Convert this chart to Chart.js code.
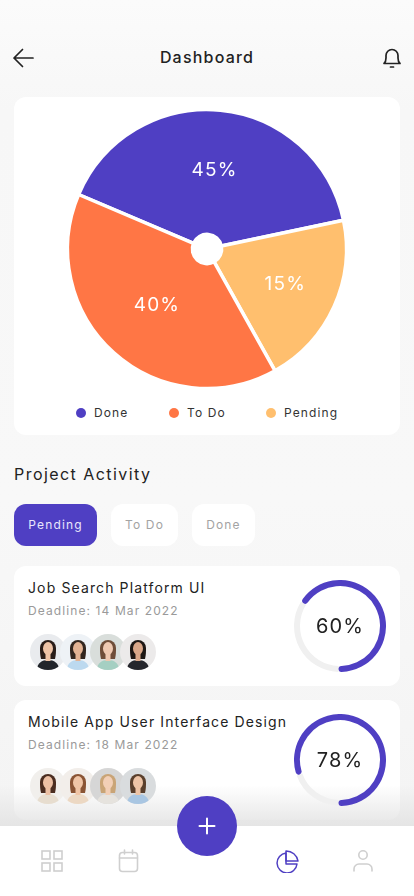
<!DOCTYPE html>
<html>
<head>
<meta charset="utf-8">
<title>Dashboard</title>
<script src="https://cdn.jsdelivr.net/npm/chart.js@4"></script>
<style>
    * { box-sizing: border-box; }
    html, body { margin: 0; padding: 0; }
    body {
        width: 414px; height: 896px; position: relative; overflow: hidden;
        font-family: Inter, "Noto Sans", sans-serif; color: #222;
        background: linear-gradient(#fbfbfb 0, #f7f7f7 110px, #f8f8f8 500px, #f4f4f4 800px);
    }
    .abs { position: absolute; }
    .title { left: 0; width: 414px; top: 47px; text-align: center; font-size: 16px; line-height: 20px; font-weight: 500; letter-spacing: 1.2px; }
    .card { position: absolute; left: 14px; width: 386px; background: #fff; border-radius: 12px; }
    .legend-item { position: absolute; top: 405px; font-size: 12px; line-height: 16px; letter-spacing: 1.1px; font-weight: 400; color: #333; }
    .legend-dot { position: absolute; top: 408px; width: 10px; height: 10px; border-radius: 50%; }
    .section { left: 14px; top: 464px; font-size: 16px; line-height: 20px; font-weight: 400; letter-spacing: 1.45px; }
    .tab { position: absolute; top: 504px; height: 42px; border-radius: 12px; background: #fff; color: #a3a3a3; font-size: 12px; line-height: 42px; text-align: center; letter-spacing: 1.15px; font-weight: 400; }
    .tab.active { background: #4f3fc3; color: #e9e6fb; }
    .task-name { position: absolute; left: 28px; font-size: 14px; line-height: 18px; font-weight: 400; letter-spacing: 1.12px; white-space: nowrap; }
    .task-date { position: absolute; left: 28px; font-size: 12px; line-height: 16px; color: #9a9a9a; letter-spacing: 1.1px; white-space: nowrap; }
    .ring { position: absolute; left: 294px; width: 92px; height: 92px; }
    .ring-text { position: absolute; left: 294px; width: 92px; text-align: center; font-size: 20px; line-height: 24px; letter-spacing: 1.1px; color: #222; }
    .avatar { position: absolute; width: 36px; height: 36px; border-radius: 50%; overflow: hidden; }
    .fade { left: 0; top: 785px; width: 414px; height: 41px; background: linear-gradient(rgba(228,228,228,0), rgba(228,228,228,.95)); }
    .nav { left: 0; top: 826px; width: 414px; height: 70px; background: #fff; }
    .fab { left: 177px; top: 796px; width: 60px; height: 60px; border-radius: 50%; background: #4f3fc3; }
</style>
</head>
<body>

<svg class="abs" style="left:12px;top:47px" width="22" height="22" viewBox="0 0 22 22" fill="none" stroke="#222" stroke-width="1.7" stroke-linecap="round" stroke-linejoin="round"><path d="M21 11H2M10.5 2.5 2 11l8.5 8.5"/></svg>
<div class="abs title">Dashboard</div>
<svg class="abs" style="left:381px;top:47px" width="22" height="22" viewBox="0 0 22 22" fill="none" stroke="#222" stroke-width="1.7" stroke-linecap="round" stroke-linejoin="round"><path d="M3 16.5h16c-1.6-1.4-2-3-2-5.5V8.500a6 6 0 0 0-12 0V11c0 2.500-.4 4.100-2 5.500z"/><path d="M9.500 20h3"/></svg>

<div class="card" style="top:97px;height:338px"></div>
<canvas id="pieChart" class="abs" style="left:57px;top:99px;width:300px;height:300px" width="300" height="300"></canvas>
<div id="pieLegend"></div>

<div class="abs section">Project Activity</div>
<div id="tabs"></div>

<div class="card" style="top:566px;height:120px"></div>
<div class="card" style="top:700px;height:120px"></div>
<div class="abs fade"></div>
<div id="tasks"></div>

<div class="abs nav"></div>
<div class="abs fab"></div>
<svg class="abs" style="left:197px;top:816px" width="20" height="20" viewBox="0 0 20 20" stroke="#fff" stroke-width="2" stroke-linecap="round"><path d="M10 2.500v15M2.500 10h15"/></svg>

<svg class="abs" style="left:41px;top:850px" width="22" height="22" viewBox="0 0 22 22" fill="none" stroke="#cfcfcf" stroke-width="1.6"><rect x="1" y="1" width="8" height="8"/><rect x="13" y="1" width="8" height="8"/><rect x="1" y="13" width="8" height="8"/><rect x="13" y="13" width="8" height="8"/></svg>
<svg class="abs" style="left:118px;top:849px" width="21" height="24" viewBox="0 0 21 24" fill="none" stroke="#cfcfcf" stroke-width="1.6" stroke-linecap="round"><rect x="1.500" y="3.500" width="18" height="19" rx="3"/><path d="M1.500 9h18M6.500 1v4M14.500 1v4"/></svg>
<svg class="abs" style="left:276px;top:850px" width="23" height="23" viewBox="0 0 23 23" fill="none" stroke="#4f3fc3" stroke-width="1.5" stroke-linejoin="round"><path d="M10 3a10 10 0 1 0 11 11H10z"/><path d="M10 1a12 12 0 0 1 12 10H10z"/></svg>
<svg class="abs" style="left:353px;top:850px" width="20" height="22" viewBox="0 0 20 22" fill="none" stroke="#cfcfcf" stroke-width="1.6" stroke-linecap="round"><circle cx="10" cy="5" r="4.200"/><path d="M1 21v-2a5 5 0 0 1 5-5h8a5 5 0 0 1 5 5v2"/></svg>

<script>
// --- DATA ---
// slices in clockwise drawing order. arcs are what the picture shows, printed numbers differ from them
const sliceNames = ["Done", "Pending", "To Do"];
const sliceArcs = [40.3, 20.2, 39.5];
const sliceLabels = ["45%", "15%", "40%"];

const legendNames = ["Done", "To Do", "Pending"];
const tabNames = ["Pending", "To Do", "Done"];

const taskNames = ["Job Search Platform UI", "Mobile App User Interface Design"];
const taskDates = ["Deadline: 14 Mar 2022", "Deadline: 18 Mar 2022"];
const taskRingLabels = ["60%", "78%"];
const taskRingArcs = [66.7, 81];

// --- COLORS ---
const PURPLE = "#4f3fc3";
const sliceColors = { "Done": PURPLE, "Pending": "#ffbf6e", "To Do": "#ff7645" };

// --- LEGEND + TABS (html) ---
const legendDotX = [76, 169, 266];
document.getElementById("pieLegend").innerHTML = legendNames.map((name, i) => `
    <span class="legend-dot" style="left:${legendDotX[i]}px;background:${sliceColors[name]}"></span>
    <span class="legend-item" style="left:${legendDotX[i] + 18}px">${name}</span>
`).join("");

const tabBoxes = [[14, 83], [111, 67], [192, 63]];
document.getElementById("tabs").innerHTML = tabNames.map((name, i) => `
    <div class="tab ${i === 0 ? "active" : ""}" style="left:${tabBoxes[i][0]}px;width:${tabBoxes[i][1]}px">${name}</div>
`).join("");

// --- TASK CARDS ---
// stand-ins for the photos: [background, hair, skin, clothes]
const avatarLooks = [
    [["#e9ebee", "#2a1d18", "#eec3a6", "#22252b"], ["#eef2f6", "#33261f", "#e3b394", "#bcd9ef"], ["#d9dedb", "#6f4d38", "#efc9b1", "#a5cfc2"], ["#eceaea", "#1d1714", "#d9a789", "#25262c"]],
    [["#f1efec", "#4b2d20", "#ecc0a4", "#e7ddcf"], ["#f2eeea", "#8a5434", "#f0c5a6", "#ecd8c3"], ["#d6d6d6", "#c9a476", "#f2cfb6", "#e6e3de"], ["#d9dcde", "#5a3f2c", "#eec4a6", "#a9c6e2"]]
];

function avatarSvg(look) {
    const [bg, hair, skin, clothes] = look;
    return `<svg width="36" height="36" viewBox="0 0 36 36">
        <rect width="36" height="36" fill="${bg}"/>
        <path d="M7 36c0-7 5-10 11-10s11 3 11 10z" fill="${clothes}"/>
        <path d="M11 25c-1-4-1-8-1-11a8 8 0 0 1 16 0c0 3 0 7-1 11z" fill="${hair}"/>
        <rect x="15.500" y="19" width="5" height="8" fill="${skin}"/>
        <ellipse cx="18" cy="14.500" rx="5" ry="6.500" fill="${skin}"/>
    </svg>`;
}

const cardTops = [566, 700];
const tasksEl = document.getElementById("tasks");
tasksEl.innerHTML = taskNames.map((name, i) => {
    const top = cardTops[i];
    const avatars = avatarLooks[i].map((look, j) =>
        `<div class="avatar" style="left:${30 + j * 30}px;top:${top + 68}px">${avatarSvg(look)}</div>`
    ).join("");
    return `
        <div class="task-name" style="top:${top + 13}px">${name}</div>
        <div class="task-date" style="top:${top + 37}px">${taskDates[i]}</div>
        ${avatars}
        <canvas id="ring${i}" class="ring" style="top:${top + 14}px" width="92" height="92"></canvas>
        <div class="ring-text" style="top:${top + 48}px">${taskRingLabels[i]}</div>
    `;
}).join("");

// --- PIE ---
const labelRadius = [79, 86, 75];

const sliceLabelPlugin = {
    id: "sliceLabels",
    afterDatasetsDraw(chart) {
        const ctx = chart.ctx;
        ctx.save();
        ctx.font = "400 19px Inter, sans-serif";
        ctx.letterSpacing = "1.2px";
        ctx.fillStyle = "#fff";
        ctx.textAlign = "center";
        ctx.textBaseline = "middle";
        chart.getDatasetMeta(0).data.forEach((arc, i) => {
            const mid = (arc.startAngle + arc.endAngle) / 2;
            ctx.fillText(sliceLabels[i], arc.x + Math.cos(mid) * labelRadius[i], arc.y + Math.sin(mid) * labelRadius[i]);
        });
        ctx.restore();
    }
};

new Chart(document.getElementById("pieChart"), {
    type: "doughnut",
    data: {
        labels: sliceNames,
        datasets: [{
            data: sliceArcs,
            backgroundColor: sliceNames.map(n => sliceColors[n]),
            borderColor: "#fff",
            borderWidth: 3.5
        }]
    },
    options: {
        responsive: false,
        animation: false,
        rotation: -67,
        cutout: "10.5%",
        radius: 139.5,
        layout: { padding: 0 },
        plugins: { legend: { display: false }, tooltip: { enabled: false } }
    },
    plugins: [sliceLabelPlugin]
});

// --- PROGRESS RINGS ---
// grey rest goes first so the rounded ends of the filled part sit on top of it
taskRingArcs.forEach((filled, i) => {
    new Chart(document.getElementById("ring" + i), {
        type: "doughnut",
        data: {
            labels: ["rest", "filled"],
            datasets: [{
                data: [100 - filled, filled],
                backgroundColor: ["#f0f0f0", PURPLE],
                borderWidth: 0,
                borderRadius: [0, 6]
            }]
        },
        options: {
            responsive: false,
            animation: false,
            rotation: 182,
            cutout: 40,
            radius: 46,
            plugins: { legend: { display: false }, tooltip: { enabled: false } }
        }
    });
});
</script>
</body>
</html>
